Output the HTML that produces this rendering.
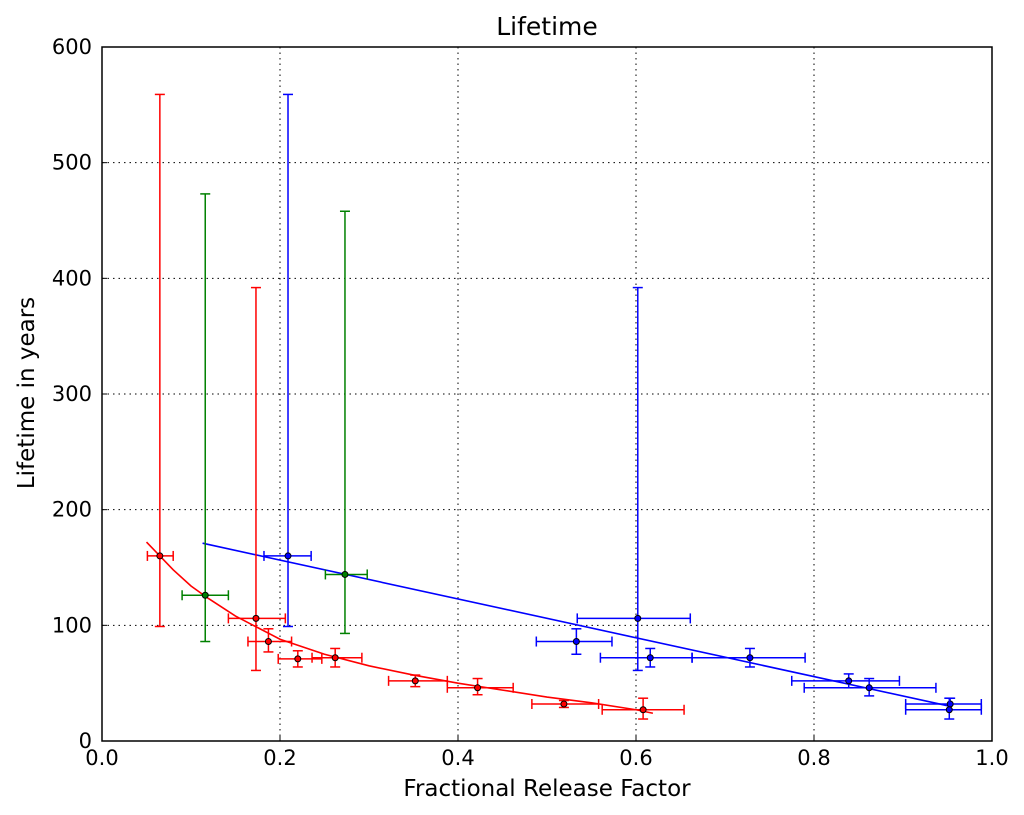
<!DOCTYPE html>
<html><head><meta charset="utf-8"><style>
body{margin:0;background:#fff;font-family:"Liberation Sans","DejaVu Sans",sans-serif;}
svg text{font-family:"DejaVu Sans","Liberation Sans",sans-serif;fill:#000;}
</style></head><body>
<svg id="chart" width="1024" height="810" viewBox="0 0 1024 810" xmlns="http://www.w3.org/2000/svg">
<text x="547" y="35" font-size="25" text-anchor="middle">Lifetime</text>
<text x="547" y="796" font-size="23" text-anchor="middle">Fractional Release Factor</text>
<text x="34" y="393" font-size="23" text-anchor="middle" transform="rotate(-90 34 393)">Lifetime in years</text>
<g id="grid"></g>
<g id="marks"></g>
<rect x="102" y="47" width="890" height="694" fill="none" stroke="#000" stroke-width="1.5"/>
<g id="ticks"></g>
</svg>
<script>
const xTicks=[0,0.2,0.4,0.6,0.8,1.0];
const xTickLabels=["0.0","0.2","0.4","0.6","0.8","1.0"];
const yTicks=[0,100,200,300,400,500,600];
const yTickLabels=["0","100","200","300","400","500","600"];
// red series
const redX=[0.065,0.173,0.187,0.220,0.262,0.352,0.422,0.519,0.608];
const redY=[160,106,86,71,72,52,46,32,27];
const redXLo=[0.051,0.142,0.164,0.198,0.236,0.322,0.388,0.483,0.562];
const redXHi=[0.080,0.206,0.213,0.247,0.292,0.388,0.462,0.558,0.654];
const redYLo=[99,61,77,64,64,47,40,29,19];
const redYHi=[559,392,97,78,80,57,54,35,37];
const redFitX=[0.05,0.08,0.1,0.12,0.15,0.2,0.25,0.3,0.35,0.4,0.45,0.5,0.55,0.6,0.619];
const redFitY=[172,148,134,123,108,88,75,65,57,50,44,38,33,27,24];
// green series
const greenX=[0.116,0.273];
const greenY=[126,144];
const greenXLo=[0.090,0.251];
const greenXHi=[0.142,0.298];
const greenYLo=[86,93];
const greenYHi=[473,458];
// blue series
const blueX=[0.209,0.602,0.533,0.616,0.728,0.839,0.862,0.953,0.952];
const blueY=[160,106,86,72,72,52,46,32,27];
const blueXLo=[0.182,0.534,0.488,0.560,0.663,0.775,0.789,0.903,0.903];
const blueXHi=[0.235,0.661,0.573,0.663,0.790,0.896,0.937,0.988,0.988];
const blueYLo=[99,61,75,64,64,46,39,27,19];
const blueYHi=[559,392,97,80,80,58,54,37,37];
const blueFitX=[0.113,0.953];
const blueFitY=[171,30];

const NS="http://www.w3.org/2000/svg";
const X0=102,X1=992,Y0=741,Y1=47;
const sx=v=>X0+(X1-X0)*v;
const sy=v=>Y0-(Y0-Y1)*v/600;
function mk(parent,tag,attrs){const e=document.createElementNS(NS,tag);for(const k in attrs)e.setAttribute(k,attrs[k]);parent.appendChild(e);return e;}
const grid=document.getElementById('grid'),marks=document.getElementById('marks'),ticks=document.getElementById('ticks');
xTicks.forEach((t,i)=>{
  if(i>0&&i<xTicks.length-1){const g=mk(grid,'line',{x1:sx(t),x2:sx(t),y1:Y1,y2:Y0,stroke:'#000','stroke-dasharray':'1.5,4','stroke-width':1});
  }
  const l=mk(ticks,'line',{x1:sx(t),x2:sx(t),y1:Y0,y2:Y0-5,stroke:'#000'});
  
  const tx=mk(ticks,'text',{x:sx(t),y:Y0+24,'font-size':21,'text-anchor':'middle'});tx.textContent=xTickLabels[i];
  
});
yTicks.forEach((t,i)=>{
  if(i>0&&i<yTicks.length-1){const g=mk(grid,'line',{x1:X0,x2:X1,y1:sy(t),y2:sy(t),stroke:'#000','stroke-dasharray':'1.5,4','stroke-width':1});
  }
  const l=mk(ticks,'line',{x1:X0,x2:X0+5,y1:sy(t),y2:sy(t),stroke:'#000'});
  
  const tx=mk(ticks,'text',{x:X0-10,y:sy(t)+7,'font-size':21,'text-anchor':'end'});tx.textContent=yTickLabels[i];
  
});
function fit(xs,ys,color,name){
  const p=mk(marks,'polyline',{points:xs.map((x,i)=>sx(x)+','+sy(ys[i])).join(' '),fill:'none',stroke:color,'stroke-width':1.6});
  
}
function series(xs,ys,xlo,xhi,ylo,yhi,color,name){
  xs.forEach((x,i)=>{
    const g=mk(marks,'g',{stroke:color,'stroke-width':1.5});
    
    const cx=sx(x),cy=sy(ys[i]);
    mk(g,'line',{x1:cx,x2:cx,y1:sy(ylo[i]),y2:sy(yhi[i])});
    mk(g,'line',{x1:cx-5,x2:cx+5,y1:sy(ylo[i]),y2:sy(ylo[i])});
    mk(g,'line',{x1:cx-5,x2:cx+5,y1:sy(yhi[i]),y2:sy(yhi[i])});
    mk(g,'line',{x1:sx(xlo[i]),x2:sx(xhi[i]),y1:cy,y2:cy});
    mk(g,'line',{x1:sx(xlo[i]),x2:sx(xlo[i]),y1:cy-5,y2:cy+5});
    mk(g,'line',{x1:sx(xhi[i]),x2:sx(xhi[i]),y1:cy-5,y2:cy+5});
    const c=mk(marks,'circle',{cx:cx,cy:cy,r:3,fill:color,stroke:'#000','stroke-width':1});
    
  });
}
fit(redFitX,redFitY,'#ff0000','red-fit-curve');
fit(blueFitX,blueFitY,'#0000ff','blue-fit-line');
series(redX,redY,redXLo,redXHi,redYLo,redYHi,'#ff0000','red');
series(greenX,greenY,greenXLo,greenXHi,greenYLo,greenYHi,'#008000','green');
series(blueX,blueY,blueXLo,blueXHi,blueYLo,blueYHi,'#0000ff','blue');
</script>
</body></html>
